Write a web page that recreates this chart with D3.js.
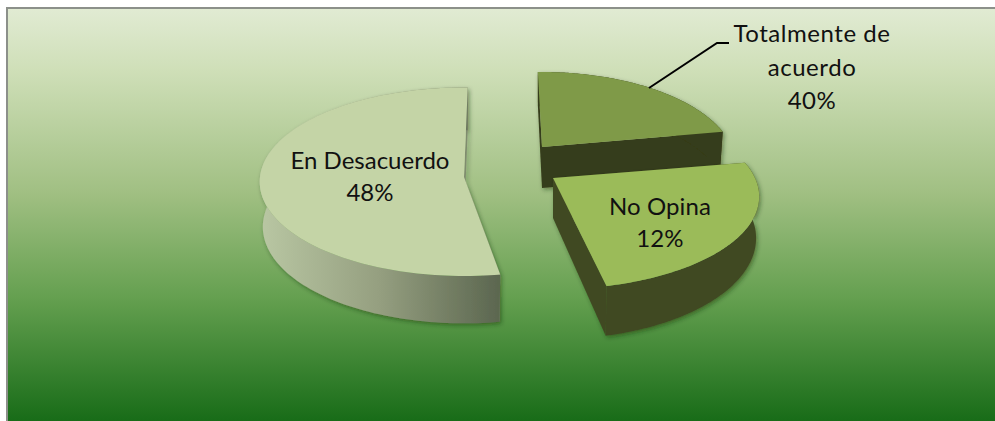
<!DOCTYPE html>
<html><head><meta charset="utf-8">
<script src="https://cdn.jsdelivr.net/npm/d3@7"></script>
<style>html,body{margin:0;padding:0;background:#fff;overflow:hidden}svg{display:block}</style>
</head><body><svg id="c" width="995" height="421"></svg>
<script>
// data
const categories = ["Totalmente de acuerdo", "No Opina", "En Desacuerdo"];
const percentLabels = [40, 12, 48];
// share of the circle that each slice occupies in the picture
const drawnShares = [22.6, 24.4, 53];

// layout
const layouts = [
  {ax:542,ay:147,R:190,Rk:90,p:0.2,h:41,rot:0,top:"#7F9A48",wall:"#363C1A",cut:"#363C1A"},
  {ax:553,ay:178,R:202,Rk:89,p:0.2,h:40,rot:0,top:"#9BBB59",wall:"#404A22",cut:"#404A22"},
  {ax:464,ay:177,R:204,Rk:94,p:0.05,h:45,rot:2.6,top:"#C4D4A6",wall:"url(#wallDes)",cut:"#7F8C6E"}
];
const labelLayout = [
  {x:812,y:[42,76,109],ls:0.55},
  {x:660,y:[215,247],ls:0.1},
  {x:370,y:[169,201],ls:0}
];

const svg = d3.select("#c");
const defs = svg.append("defs");
const bg = defs.append("linearGradient").attr("id","bg").attr("x1",0).attr("y1",0).attr("x2",0).attr("y2",1);
[[0,"#E1EBD3"],[0.15,"#CFDFB8"],[0.45,"#A0BF82"],[0.7,"#65A050"],[1,"#186C18"]]
  .forEach(([o,c])=>bg.append("stop").attr("offset",o).attr("stop-color",c));
const wd = defs.append("linearGradient").attr("id","wallDes").attr("gradientUnits","userSpaceOnUse")
  .attr("x1",260).attr("x2",498).attr("y1",0).attr("y2",0);
[[0,"#B9C7A3"],[0.5,"#959F80"],[1,"#5C6750"]].forEach(([o,c])=>wd.append("stop").attr("offset",o).attr("stop-color",c));
const sh = defs.append("filter").attr("id","shadow").attr("x","-10%").attr("y","-10%").attr("width","120%").attr("height","120%");
sh.append("feDropShadow").attr("dx",1.5).attr("dy",2).attr("stdDeviation",2).attr("flood-color","#1c2a10").attr("flood-opacity",0.45);

svg.append("rect").attr("width",995).attr("height",421).attr("fill","#fff");
svg.append("rect").attr("x",7).attr("y",8).attr("width",988).attr("height",413).attr("fill","url(#bg)");
svg.append("path").attr("d","M7,421V8H995").attr("fill","none").attr("stroke","#8C908A").attr("stroke-width",2);

const arcs = d3.pie().sort(null).value(d=>d).startAngle(-1.5*Math.PI/180).endAngle(358.5*Math.PI/180)(drawnShares);

function project(L,t,lift){
  const X=Math.sin(t),Y=-Math.cos(t),s=1/(1-L.p*Y);
  const shrink = lift?0.985:1;
  return [L.ax+L.R*X*s*shrink, L.ay+L.Rk*Y*s+(lift?L.h*s:0)];
}
function apex(L,lift){return [L.ax,L.ay+(lift?L.h:0)];}
const line=d3.line();
const poly=pts=>line(pts)+"Z";

const order=[2,0,1];
order.forEach(i=>{
  const L=layouts[i],a=arcs[i],r=L.rot*Math.PI/180;
  const t0=a.startAngle+r,t1=a.endAngle+r;
  const ts=d3.range(0,121).map(k=>t0+(t1-t0)*k/120);
  const g=svg.append("g").attr("class","slice");
  const w=g.append("g").attr("filter","url(#shadow)");
  w.append("path").attr("d",poly([project(L,t0,false),apex(L,false),apex(L,true),project(L,t0,true)])).attr("fill",L.cut);
  w.append("path").attr("d",poly([project(L,t1,false),apex(L,false),apex(L,true),project(L,t1,true)])).attr("fill",L.cut);
  w.append("path").attr("d",poly(ts.map(t=>project(L,t,false)).concat(ts.slice().reverse().map(t=>project(L,t,true))))).attr("fill",L.wall);
  g.append("path").attr("d",poly([apex(L,false)].concat(ts.map(t=>project(L,t,false))))).attr("fill",L.top);
});

// leader
svg.append("path").attr("d",d3.line()([[649,88],[717,43],[729,43]])).attr("fill","none").attr("stroke","#000").attr("stroke-width",2);

// labels
const labelLines=[["Totalmente de","acuerdo"],["No Opina"],["En Desacuerdo"]];
labelLines.forEach((ls,i)=>{
  const rows=ls.concat(percentLabels[i]+"%");
  rows.forEach((s,j)=>{
    svg.append("text").attr("x",labelLayout[i].x).attr("y",labelLayout[i].y[j])
      .attr("text-anchor","middle").attr("font-family","Lato, 'Open Sans', sans-serif")
      .attr("font-size",24).attr("letter-spacing",labelLayout[i].ls).attr("fill","#111").text(s);
  });
});
</script></body></html>
